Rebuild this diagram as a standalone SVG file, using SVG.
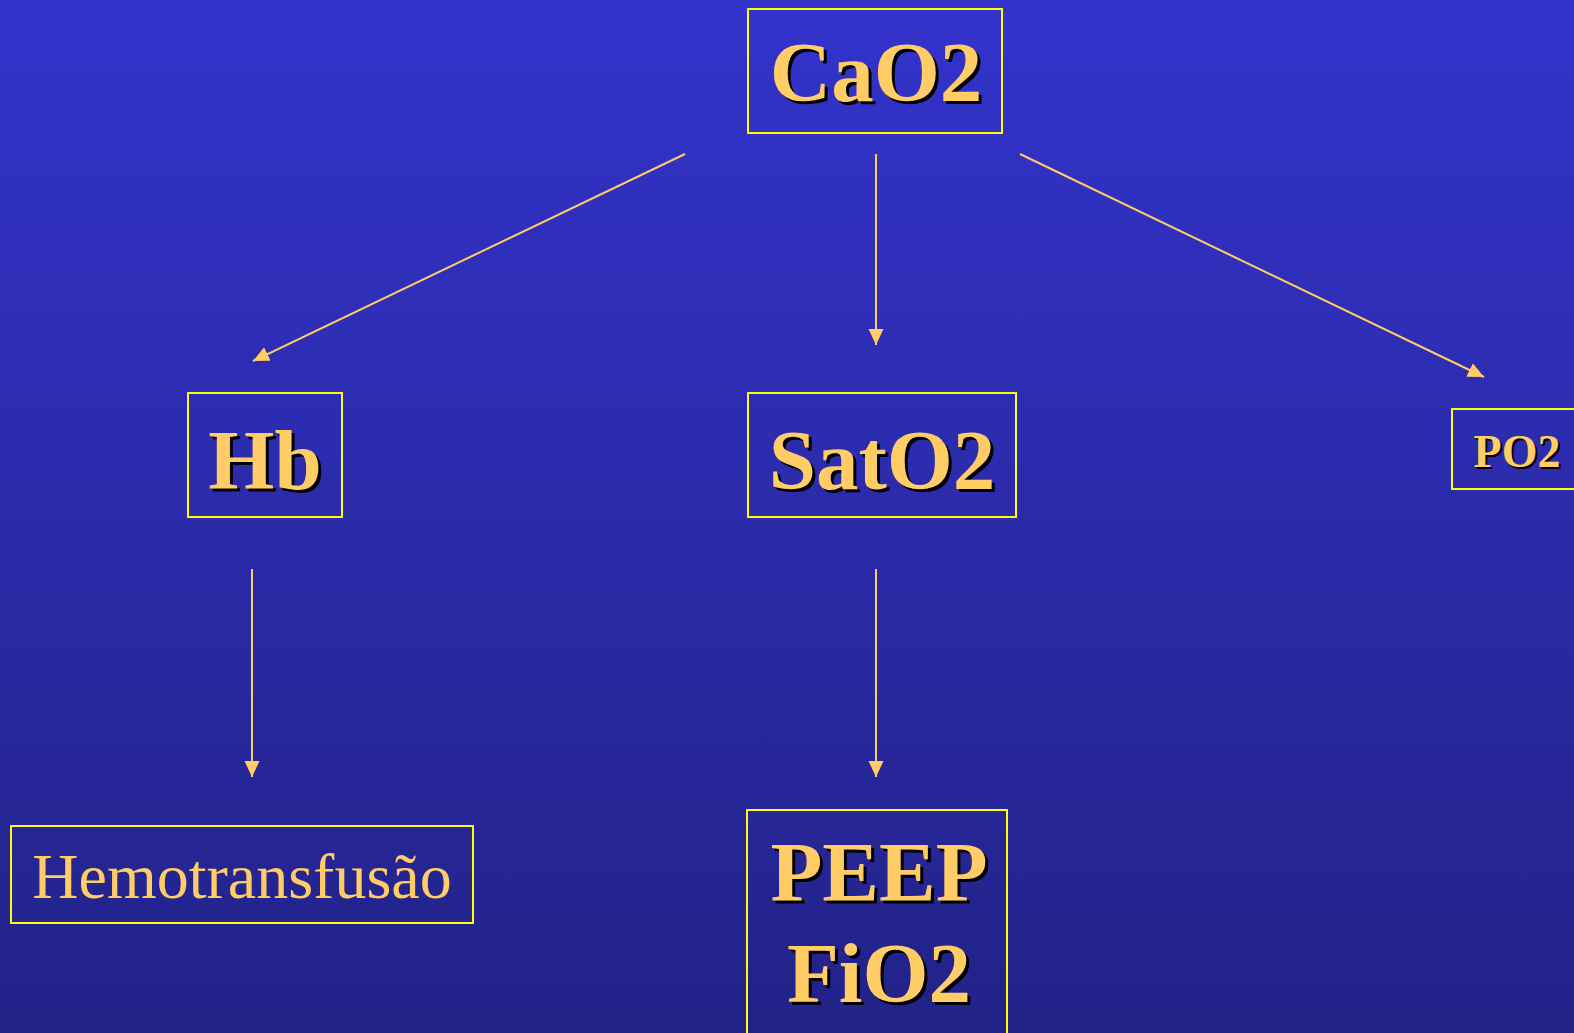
<svg xmlns="http://www.w3.org/2000/svg" width="1574" height="1033" viewBox="0 0 1574 1033">
<style>
.box{fill:none;stroke:#FFFF00;stroke-width:2}
.t{font-family:"Liberation Serif","Times New Roman",serif;font-weight:bold;fill:#FFCC66;text-anchor:middle}
.sh{font-family:"Liberation Serif","Times New Roman",serif;font-weight:bold;fill:#000;text-anchor:middle}
.r{font-family:"Liberation Serif","Times New Roman",serif;fill:#FFCC66;text-anchor:middle}
.c{stroke:#FFCC66;stroke-width:2;fill:none;marker-end:url(#ah)}
</style>
<defs>
<linearGradient id="bg" x1="0" y1="0" x2="0" y2="1">
<stop offset="0" stop-color="#3333CC"/>
<stop offset="1" stop-color="#222288"/>
</linearGradient>
<marker id="ah" markerUnits="userSpaceOnUse" markerWidth="17" markerHeight="16" refX="16" refY="7.5" orient="auto">
<path d="M0,0 L16,7.5 L0,15 z" fill="#FFCC66"/>
</marker>
</defs>
<rect width="1574" height="1033" fill="url(#bg)"/>
<g id="connectors">
<line class="c" x1="685" y1="154" x2="253" y2="361"/>
<line class="c" x1="876" y1="154" x2="876" y2="345"/>
<line class="c" x1="1020" y1="154" x2="1484" y2="377"/>
<line class="c" x1="252" y1="569" x2="252" y2="777"/>
<line class="c" x1="876" y1="569" x2="876" y2="777"/>
</g>
<g id="CaO2">
<rect class="box" x="748" y="9" width="254" height="124"/>
<text class="sh" x="879" y="104" font-size="85">CaO2</text>
<text class="t" x="876" y="101" font-size="85">CaO2</text>
</g>
<g id="Hb">
<rect class="box" x="188" y="393" width="154" height="124"/>
<text class="sh" x="268" y="492" font-size="85">Hb</text>
<text class="t" x="265" y="489" font-size="85">Hb</text>
</g>
<g id="SatO2">
<rect class="box" x="748" y="393" width="268" height="124"/>
<text class="sh" x="885" y="492" font-size="85">SatO2</text>
<text class="t" x="882" y="489" font-size="85">SatO2</text>
</g>
<g id="PO2">
<rect class="box" x="1452" y="409" width="130" height="80"/>
<text class="sh" x="1519" y="469" font-size="46">PO2</text>
<text class="t" x="1517" y="467" font-size="46">PO2</text>
</g>
<g id="Hemotransfusao">
<rect class="box" x="11" y="826" width="462" height="97"/>
<text class="r" x="242" y="898" font-size="64">Hemotransfusão</text>
</g>
<g id="PEEP_FiO2">
<rect class="box" x="747" y="810" width="260" height="240"/>
<text class="sh" x="882" y="904" font-size="85">PEEP</text>
<text class="t" x="879" y="901" font-size="85">PEEP</text>
<text class="sh" x="882" y="1005" font-size="85">FiO2</text>
<text class="t" x="879" y="1002" font-size="85">FiO2</text>
</g>
</svg>
